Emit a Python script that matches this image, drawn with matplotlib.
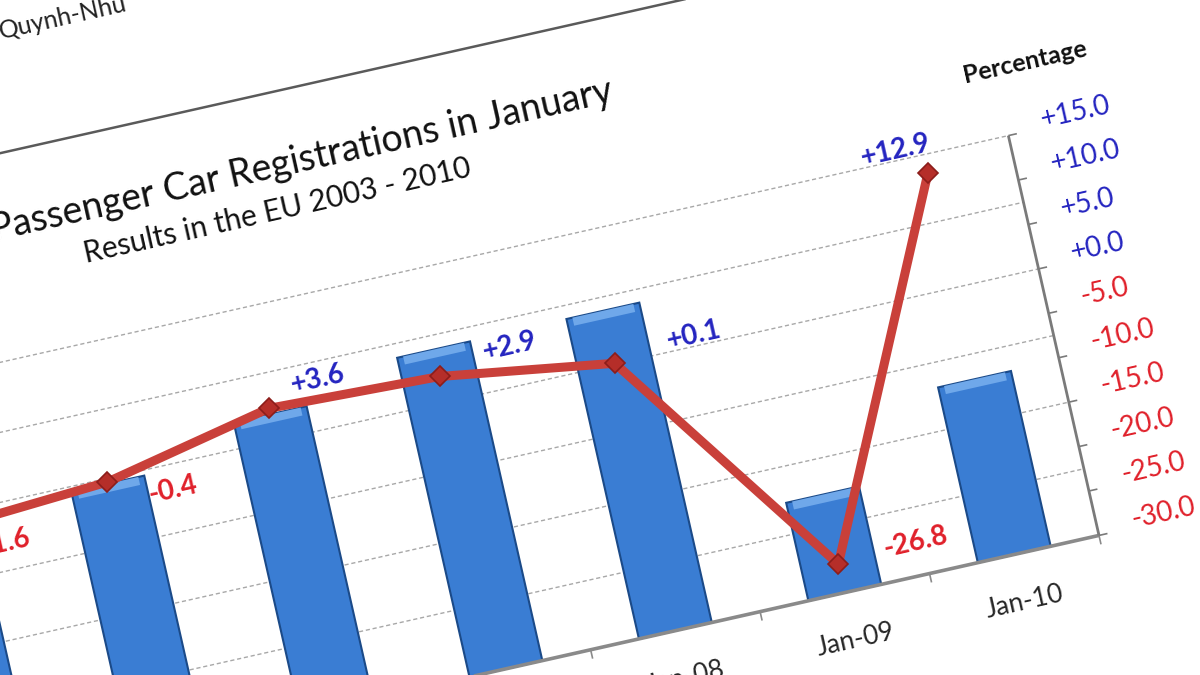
import numpy as np
import matplotlib.pyplot as plt
from matplotlib.transforms import Affine2D

plt.rcParams['font.family'] = ['Lato', 'DejaVu Sans']

# data
categories = ['Jan-03', 'Jan-04', 'Jan-05', 'Jan-06', 'Jan-07', 'Jan-08', 'Jan-09', 'Jan-10']
registrations = [1114, 1096, 1092, 1139, 1179, 1180, 847, 963]   # thousands, primary axis (cut off)
change_cats = ['Jan-04', 'Jan-05', 'Jan-06', 'Jan-07', 'Jan-08', 'Jan-09', 'Jan-10']
change_pct = [-1.6, -0.4, 3.6, 2.9, 0.1, -26.8, 12.9]
pct_ticks = [15, 10, 5, 0, -5, -10, -15, -20, -25, -30]
reg_grid = [800, 900, 1000, 1100, 1200, 1300]

left_lim = (700, 1300)
right_lim = (-30, 15)

# where each change label sits relative to its point (categories, percent)
label_nudge = [(0.35, -2.9), (0.36, -2.4), (0.31, 1.96), (0.43, 1.52),
               (0.48, 1.13), (0.46, 0.56), (-0.15, 3.17)]

BLUE = '#2424c0'
RED = '#e0202a'

fig = plt.figure(figsize=(12, 6.75), dpi=100)
ax = fig.add_axes([0, 0, 1, 1])
ax.set_xlim(0, 1200)
ax.set_ylim(675, 0)
ax.axis('off')

# the photo shows the sheet turned a bit: map (category, percent) onto the page
chart_tr = Affine2D(np.array([[169.45, -2.014, -232.3],
                              [-38.11, -8.885, 554.7],
                              [0.0, 0.0, 1.0]])) + ax.transData
k = (right_lim[1] - right_lim[0]) / (left_lim[1] - left_lim[0])
bar_tr = Affine2D().scale(1, k).translate(0, right_lim[0] - left_lim[0] * k) + chart_tr

idx = np.arange(len(categories))
cidx = np.array([categories.index(c) for c in change_cats])
x0, x1 = -0.5, len(categories) - 0.5

# gridlines of the primary axis
ax.hlines(reg_grid, x0, x1, transform=bar_tr, colors='#a8a8a8', lw=1.0,
          linestyles=(0, (3, 2)), zorder=1)

# bars
reg = np.array(registrations)
ax.bar(idx, reg - left_lim[0], bottom=left_lim[0], width=0.43, color='#3a7dd3',
       edgecolor='#1b4a88', linewidth=1.5, transform=bar_tr, zorder=2)
cap = 12
ax.bar(idx, cap, bottom=reg - cap, width=0.36, color='#6fa8ea', linewidth=0,
       transform=bar_tr, zorder=2)

# axes
ax.hlines(right_lim[0], x0, x1, transform=chart_tr, colors='#8a8a8a', lw=2.6, zorder=3)
ax.vlines(np.arange(len(categories)) + 0.5, right_lim[0] - 1.0, right_lim[0],
          transform=chart_tr, colors='#8a8a8a', lw=1.2, zorder=3)
ax.vlines(x1, right_lim[0], right_lim[1], transform=chart_tr, colors='#7a7a7a', lw=2.0, zorder=3)
ax.hlines(pct_ticks, x1, x1 + 0.05, transform=chart_tr, colors='#7a7a7a', lw=1.2, zorder=3)

for t in pct_ticks:
    ax.text(x1 + 0.2, t + 0.9, f'{t:+.1f}', transform=chart_tr, transform_rotates_text=True,
            rotation_mode='anchor', ha='left', va='center', fontsize=20,
            color=BLUE if t >= 0 else RED)

# category labels: only those that land on (or just at the edge of) the photo
for i, c in zip(idx, categories):
    px, py = chart_tr.transform((i, right_lim[0] - 5.3))
    if py < -25:
        continue
    ax.text(i, right_lim[0] - 5.3, c, transform=chart_tr, transform_rotates_text=True,
            rotation_mode='anchor', ha='center', va='center', fontsize=19, color='#262626')

# percent change line
ax.plot(cidx, change_pct, transform=chart_tr, color='#c9403a', lw=6.5,
        solid_joinstyle='round', marker='D', ms=10, mfc='#b52e29', mec='#8c1d1a',
        mew=1.2, zorder=4)

for i, v, (di, dv) in zip(cidx, change_pct, label_nudge):
    ax.text(i + di, v + dv, f'{v:+.1f}', transform=chart_tr, transform_rotates_text=True,
            rotation_mode='anchor', ha='center', va='center', fontsize=20,
            fontweight='bold', color=BLUE if v >= 0 else RED, zorder=5)

# titles and frame
ax.text(3.50, 29.3, 'Passenger Car Registrations in January', transform=chart_tr,
        transform_rotates_text=True, rotation_mode='anchor', ha='center', va='center',
        fontsize=27, color='#111111')
ax.text(3.30, 24.5, 'Results in the EU 2003 - 2010', transform=chart_tr,
        transform_rotates_text=True, rotation_mode='anchor', ha='center', va='center',
        fontsize=21.5, color='#111111')
ax.text(7.69, 22.5, 'Percentage', transform=chart_tr, transform_rotates_text=True,
        rotation_mode='anchor', ha='center', va='center', fontsize=18,
        fontweight='bold', color='#111111')
ax.hlines(37.4, -3, 12, transform=chart_tr, colors='#5a5a5a', lw=1.8)
ax.text(2.34, 50.4, 'Quynh-Nhu', transform=chart_tr, transform_rotates_text=True,
        rotation_mode='anchor', ha='center', va='center', fontsize=18, color='#222222')

ax.set_xlim(0, 1200)
ax.set_ylim(675, 0)
fig.savefig('out.png', dpi=100)
